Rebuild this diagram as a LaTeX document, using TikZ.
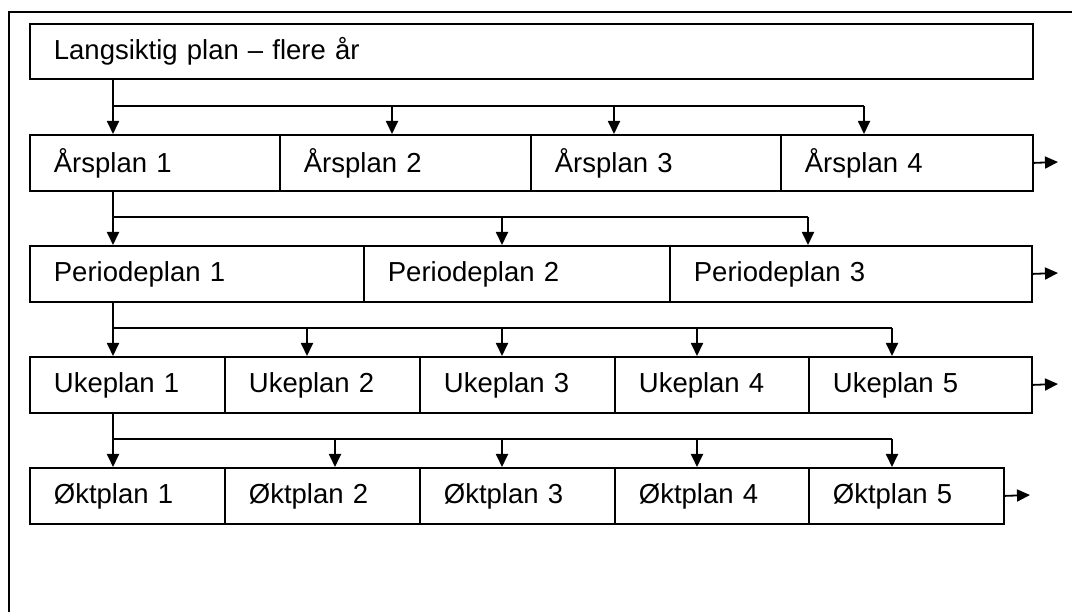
\documentclass[tikz,border=0pt]{standalone}
\usepackage{fontspec}
\setmainfont{Liberation Sans}
\usetikzlibrary{arrows.meta}
\begin{document}
\begin{tikzpicture}[x=1pt,y=-1pt,
  line width=1.8pt,
  cell/.style={draw, anchor=north west, inner xsep=24pt, inner ysep=0pt,
    minimum height=56pt, align=left, font=\fontsize{27.5pt}{32pt}\selectfont},
  arr/.style={-{Triangle[length=13pt,width=12pt]}}]
\useasboundingbox (0,0) rectangle (1072,612);
% outer frame (only left and top visible)
\draw (9,612) -- (9,12) -- (1072,12);

% row 0
\node[cell, minimum height=55pt, text width=955pt] (L) at (29,23) {Langsiktig plan – flere år};
% row 1
\node[cell, text width=202pt] (A1) at (29,134) {Årsplan 1};
\node[cell, text width=203pt] (A2) at (279,134) {Årsplan 2};
\node[cell, text width=202pt] (A3) at (530,134) {Årsplan 3};
\node[cell, text width=204pt] (A4) at (780,134) {Årsplan 4};
% row 2
\node[cell, text width=286pt] (P1) at (29,245) {Periodeplan 1};
\node[cell, text width=258pt] (P2) at (363,245) {Periodeplan 2};
\node[cell, text width=314pt] (P3) at (669,245) {Periodeplan 3};
% row 3
\node[cell, text width=147pt] (U1) at (29,356) {Ukeplan 1};
\node[cell, text width=147pt] (U2) at (224,356) {Ukeplan 2};
\node[cell, text width=147pt] (U3) at (419,356) {Ukeplan 3};
\node[cell, text width=146pt] (U4) at (614,356) {Ukeplan 4};
\node[cell, text width=175pt] (U5) at (808,356) {Ukeplan 5};
% row 4
\node[cell, text width=147pt] (O1) at (29,467) {Øktplan 1};
\node[cell, text width=147pt] (O2) at (224,467) {Øktplan 2};
\node[cell, text width=147pt] (O3) at (419,467) {Øktplan 3};
\node[cell, text width=146pt] (O4) at (614,467) {Øktplan 4};
\node[cell, text width=147pt] (O5) at (808,467) {Øktplan 5};

% branch points
\coordinate (a1) at (113,106); \coordinate (a2) at (392,106);
\coordinate (a3) at (614,106); \coordinate (a4) at (864,106);
\coordinate (p1) at (113,217); \coordinate (p2) at (502,217);
\coordinate (p3) at (808,217);
\coordinate (u1) at (113,328); \coordinate (u2) at (307,328);
\coordinate (u3) at (502,328); \coordinate (u4) at (697,328);
\coordinate (u5) at (892,328);
\coordinate (o1) at (113,439); \coordinate (o2) at (335,439);
\coordinate (o3) at (502,439); \coordinate (o4) at (697,439);
\coordinate (o5) at (892,439);

% level 0 -> 1
\draw[arr] (a1 |- L.south) -- (a1 |- A1.north);
\draw (a1) -- (a4);
\draw[arr] (a2) -- (a2 |- A2.north);
\draw[arr] (a3) -- (a3 |- A3.north);
\draw[arr] (a4) -- (a4 |- A4.north);
% level 1 -> 2
\draw[arr] (p1 |- A1.south) -- (p1 |- P1.north);
\draw (p1) -- (p3);
\draw[arr] (p2) -- (p2 |- P2.north);
\draw[arr] (p3) -- (p3 |- P3.north);
% level 2 -> 3
\draw[arr] (u1 |- P1.south) -- (u1 |- U1.north);
\draw (u1) -- (u5);
\draw[arr] (u2) -- (u2 |- U2.north);
\draw[arr] (u3) -- (u3 |- U3.north);
\draw[arr] (u4) -- (u4 |- U4.north);
\draw[arr] (u5) -- (u5 |- U5.north);
% level 3 -> 4
\draw[arr] (o1 |- U1.south) -- (o1 |- O1.north);
\draw (o1) -- (o5);
\draw[arr] (o2) -- (o2 |- O2.north);
\draw[arr] (o3) -- (o3 |- O3.north);
\draw[arr] (o4) -- (o4 |- O4.north);
\draw[arr] (o5) -- (o5 |- O5.north);

% continuation arrows
\coordinate (ea) at (1058,162);
\coordinate (ep) at (1058,273);
\coordinate (eu) at (1058,384);
\coordinate (eo) at (1030,495);
\draw[arr] (A4.east) -- (ea);
\draw[arr] (P3.east) -- (ep);
\draw[arr] (U5.east) -- (eu);
\draw[arr] (O5.east) -- (eo);
\end{tikzpicture}
\end{document}
